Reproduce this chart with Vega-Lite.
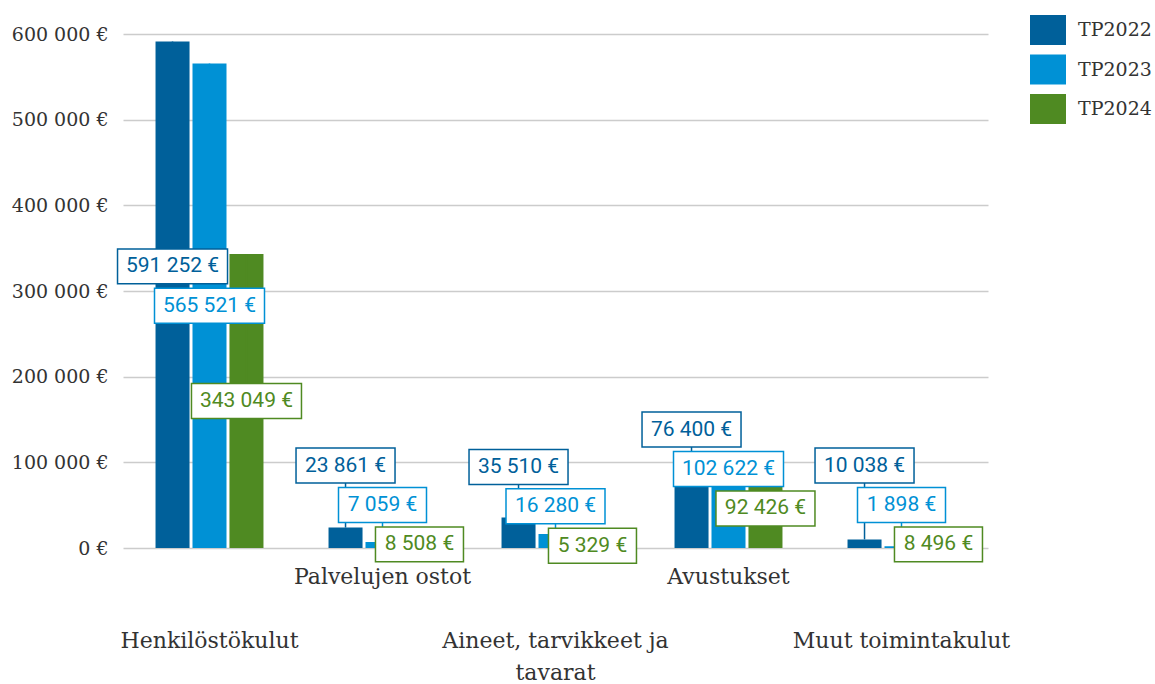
{
  "$schema": "https://vega.github.io/schema/vega-lite/v6.json",
  "width": 865,
  "height": 514,
  "autosize": {"type": "none"},
  "padding": {"left": 123, "top": 34, "right": 167, "bottom": 136},
  "background": "white",
  "config": {"view": {"stroke": null}},
  "data": {
    "values": [
      {"cat": "Henkilöstökulut", "series": "TP2022", "value": 591252},
      {"cat": "Henkilöstökulut", "series": "TP2023", "value": 565521},
      {"cat": "Henkilöstökulut", "series": "TP2024", "value": 343049},
      {"cat": "Palvelujen ostot", "series": "TP2022", "value": 23861},
      {"cat": "Palvelujen ostot", "series": "TP2023", "value": 7059},
      {"cat": "Palvelujen ostot", "series": "TP2024", "value": 8508},
      {"cat": "Aineet, tarvikkeet ja tavarat", "series": "TP2022", "value": 35510},
      {"cat": "Aineet, tarvikkeet ja tavarat", "series": "TP2023", "value": 16280},
      {"cat": "Aineet, tarvikkeet ja tavarat", "series": "TP2024", "value": 5329},
      {"cat": "Avustukset", "series": "TP2022", "value": 76400},
      {"cat": "Avustukset", "series": "TP2023", "value": 102622},
      {"cat": "Avustukset", "series": "TP2024", "value": 92426},
      {"cat": "Muut toimintakulut", "series": "TP2022", "value": 10038},
      {"cat": "Muut toimintakulut", "series": "TP2023", "value": 1898},
      {"cat": "Muut toimintakulut", "series": "TP2024", "value": 8496}
    ]
  },
  "transform": [
    {"window": [{"op": "lead", "field": "value", "param": 1, "as": "n1"}, {"op": "lead", "field": "value", "param": 2, "as": "n2"}], "groupby": ["cat"], "sort": [{"field": "series", "order": "ascending"}], "frame": [null, null]},
    {"calculate": "datum.series === 'TP2024' ? datum.value / 2 : (datum.series === 'TP2023' ? max(datum.value / 2, datum.n1 / 2 + 46000) : max(datum.value / 2, max(datum.n1 / 2, datum.n2 / 2 + 46000) + 46000))", "as": "ly"},
    {"calculate": "datum.ly + 20400", "as": "ltop"},
    {"calculate": "datum.ly - 20400", "as": "lbot"},
    {"calculate": "replace(format(datum.value, ','), regexp(',', 'g'), ' ') + ' €'", "as": "lbl"},
    {"calculate": "length(datum.lbl) * 11 + 11", "as": "bw"}
  ],
  "encoding": {
    "x": {
      "field": "cat",
      "type": "nominal",
      "sort": ["Henkilöstökulut", "Palvelujen ostot", "Aineet, tarvikkeet ja tavarat", "Avustukset", "Muut toimintakulut"],
      "scale": {"paddingInner": 0.376, "paddingOuter": 0.188},
      "axis": {
        "title": null,
        "labelAngle": 0,
        "ticks": false,
        "domain": false,
        "labelPadding": {"condition": {"test": "datum.value === 'Palvelujen ostot' || datum.value === 'Avustukset'", "value": 18}, "value": 82},
        "labelLineHeight": 32,
        "labelOverlap": false,
        "labelLimit": 400,
        "labelFont": "DejaVu Serif",
        "labelFontSize": 22,
        "labelColor": "#333333",
        "labelExpr": "datum.value === 'Aineet, tarvikkeet ja tavarat' ? ['Aineet, tarvikkeet ja', 'tavarat'] : [datum.value]"
      }
    },
    "xOffset": {"field": "series", "type": "nominal", "sort": ["TP2022", "TP2023", "TP2024"], "scale": {"paddingInner": 0.08, "paddingOuter": 0}}
  },
  "layer": [
    {
      "mark": {"type": "bar"},
      "encoding": {
        "y": {
          "field": "value",
          "type": "quantitative",
          "scale": {"domain": [0, 600000], "nice": false},
          "axis": {
            "title": null,
            "values": [0, 100000, 200000, 300000, 400000, 500000, 600000],
            "labelExpr": "replace(format(datum.value, ','), regexp(',', 'g'), ' ') + ' €'",
            "domain": false,
            "ticks": false,
            "labelPadding": 15,
            "gridColor": "#cccccc",
            "gridWidth": 1.5,
            "labelFont": "DejaVu Serif",
            "labelFontSize": 19,
            "labelColor": "#333333"
          }
        },
        "color": {
          "field": "series",
          "type": "nominal",
          "scale": {"domain": ["TP2022", "TP2023", "TP2024"], "range": ["#00609a", "#0091d5", "#4f8a22"]},
          "legend": {
            "title": null,
            "orient": "none",
            "legendX": 907,
            "legendY": -22,
            "symbolType": "M-1,-0.83H1V0.83H-1Z",
            "symbolSize": 1296,
            "symbolStrokeWidth": 0,
            "symbolOpacity": 1,
            "labelFont": "DejaVu Serif",
            "labelFontSize": 19,
            "labelColor": "#333333",
            "labelOffset": 12,
            "rowPadding": 6.5
          }
        }
      }
    },
    {
      "mark": {"type": "rule", "strokeWidth": 1.5},
      "encoding": {
        "y": {"field": "value", "type": "quantitative"},
        "y2": {"field": "ly"},
        "color": {"field": "series", "type": "nominal"}
      }
    },
    {
      "mark": {"type": "bar", "filled": false, "fill": "white", "strokeWidth": 1.5},
      "encoding": {
        "y": {"field": "ltop", "type": "quantitative"},
        "y2": {"field": "lbot"},
        "size": {"field": "bw", "type": "quantitative", "scale": null},
        "color": {"field": "series", "type": "nominal"}
      }
    },
    {
      "mark": {"type": "text", "font": "Roboto", "fontSize": 21, "baseline": "middle", "align": "center"},
      "encoding": {
        "y": {"field": "ly", "type": "quantitative"},
        "text": {"field": "lbl"},
        "color": {"field": "series", "type": "nominal"}
      }
    }
  ]
}
